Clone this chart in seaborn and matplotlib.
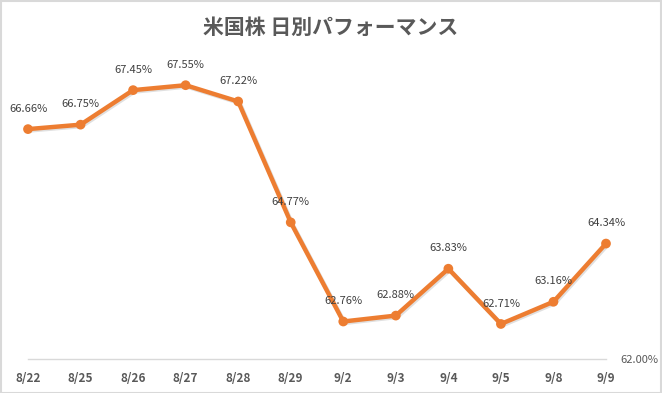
import matplotlib
matplotlib.use("Agg")
import matplotlib.pyplot as plt
import matplotlib.patheffects as pe
from matplotlib.ticker import FuncFormatter
import seaborn as sns
import pandas as pd

dates = ["8/22", "8/25", "8/26", "8/27", "8/28", "8/29",
         "9/2", "9/3", "9/4", "9/5", "9/8", "9/9"]
perf = [66.66, 66.75, 67.45, 67.55, 67.22, 64.77,
        62.76, 62.88, 63.83, 62.71, 63.16, 64.34]

df = pd.DataFrame({"date": dates, "perf": perf})

sns.set_style("white")
plt.rcParams["font.family"] = ["Noto Sans CJK JP", "DejaVu Sans"]

orange = "#ED7D31"
grey = "#595959"

fig = plt.figure(figsize=(6.62, 3.93), dpi=100)
ax = fig.add_axes([28 / 662, 1 - 359 / 393, (606 - 28) / 662, (359 - 63) / 393])

sns.lineplot(data=df, x="date", y="perf", sort=False, color=orange,
             linewidth=3.2, marker="o", markersize=7, markeredgewidth=0,
             ax=ax, clip_on=False,
             path_effects=[pe.SimpleLineShadow(offset=(1, -1), alpha=0.12),
                           pe.Normal()])

for i, v in enumerate(perf):
    ax.annotate(f"{v:.2f}%", (i, v), xytext=(0, 11), textcoords="offset points",
                ha="center", va="bottom", fontsize=8, color="#404040")

ax.set_xlim(0, len(dates) - 1)
ax.set_ylim(62, 68)
ax.set_xlabel("")
ax.set_ylabel("")

ax.yaxis.tick_right()
ax.set_yticks([62])
ax.yaxis.set_major_formatter(FuncFormatter(lambda v, p: f"{v:.2f}%"))
ax.tick_params(axis="y", length=0, labelsize=8, labelcolor=grey, pad=10)
ax.tick_params(axis="x", length=0, labelsize=8.5, labelcolor=grey, pad=9)
for lab in ax.get_xticklabels():
    lab.set_fontweight("bold")

for s in ["top", "left", "right"]:
    ax.spines[s].set_visible(False)
ax.spines["bottom"].set_color("#D9D9D9")
ax.spines["bottom"].set_linewidth(1)

fig.text(0.5, 1 - 27 / 393, "米国株 日別パフォーマンス", ha="center", va="center",
         fontsize=15, fontweight="bold", color=grey)

border = plt.Rectangle((0.001, 0.001), 0.997, 0.997, transform=fig.transFigure,
                       fill=False, edgecolor="#D9D9D9", linewidth=1.5)
fig.patches.append(border)

fig.savefig("out.png", dpi=100)
